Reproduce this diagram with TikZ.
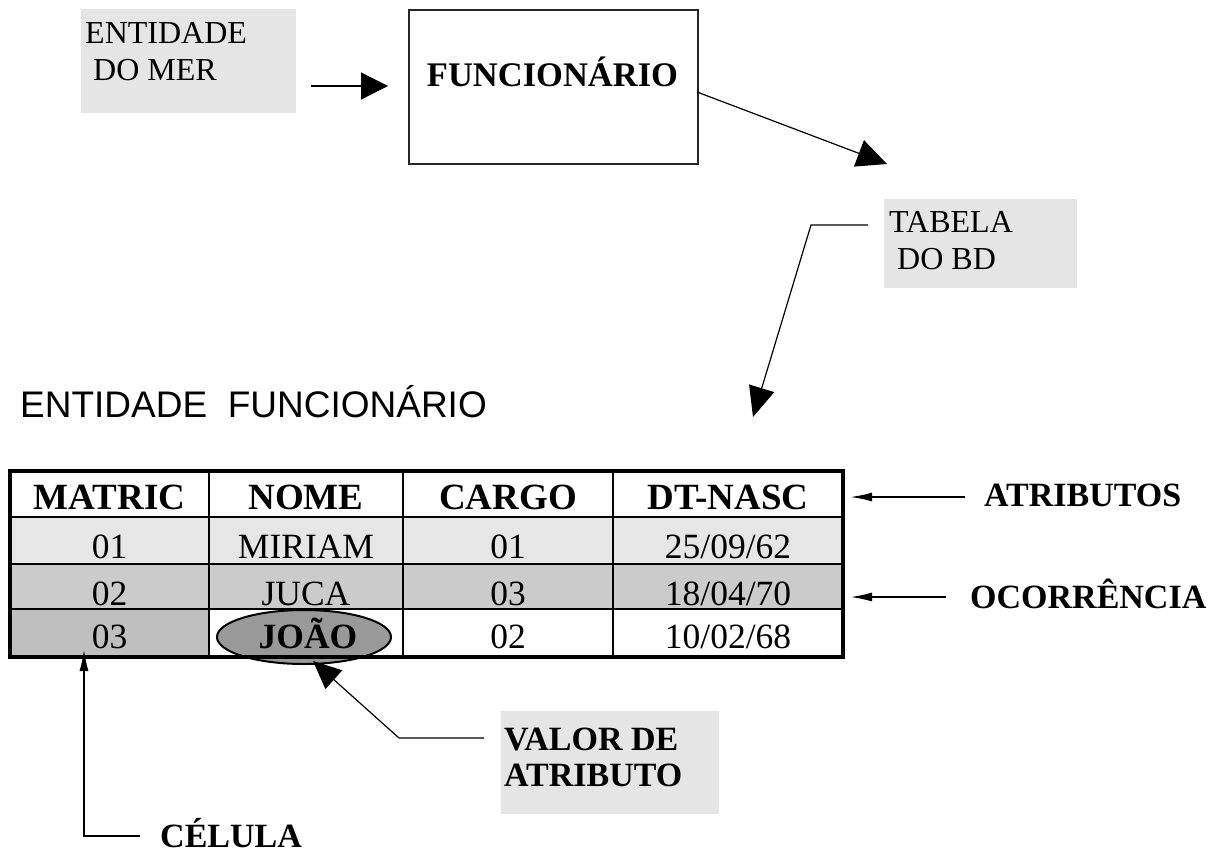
\documentclass[tikz,border=0pt]{standalone}
\usepackage{fontspec}
\setmainfont{Liberation Serif}
\newfontfamily\arialf{Liberation Sans}
\usetikzlibrary{arrows.meta,shapes.geometric}
\definecolor{lightbox}{HTML}{E5E5E5}
\definecolor{rowone}{HTML}{E6E6E6}
\definecolor{rowtwo}{HTML}{CBCBCB}
\definecolor{cellgrey}{HTML}{BFBFBF}
\definecolor{ovalgrey}{HTML}{999999}
\begin{document}
\begin{tikzpicture}[x=1pt,y=-1pt,
  greybox/.style={fill=lightbox, draw=none, inner sep=0pt, anchor=north west},
  txt/.style={inner sep=0pt, anchor=base west},
  ctxt/.style={inner sep=0pt, anchor=base},
  regsm/.style={font=\fontsize{32}{37}\selectfont},
  boldlab/.style={font=\fontsize{34}{40}\selectfont\bfseries},
  hdr/.style={ctxt, font=\fontsize{37}{43}\selectfont\bfseries},
  cell/.style={ctxt, font=\fontsize{35.5}{42}\selectfont},
  bigarrow/.style={line width=1.2pt, -{Triangle[length=27pt,width=27pt]}},
  thinarrow/.style={line width=2pt, -{Latex[length=22pt,width=9pt]}},
  gridline/.style={line width=2pt},
]
\useasboundingbox (0,0) rectangle (1218,854);

% ---- top: ENTIDADE DO MER
\node[greybox, minimum width=215pt, minimum height=104pt] (merbox) at (81,9) {};
\node[txt, regsm] (mer1) at (85,43) {ENTIDADE};
\node[txt, regsm] (mer2) at (93,80) {DO MER};
\coordinate (merA) at (311,86);
\coordinate (merB) at (388,86);
\draw[bigarrow] (merA) -- (merB);

% ---- FUNCIONARIO box
\node[draw=black!85, line width=1.5pt, minimum width=289pt, minimum height=154pt, inner sep=0pt, anchor=north west] (func) at (408,9) {};
\node[ctxt, font=\fontsize{34.5}{40}\selectfont\bfseries] (funct) at (552.5,86) {FUNCIONÁRIO};
\coordinate (fA) at (697,92);
\coordinate (fB) at (887,164);
\draw[line width=1.2pt, -{Triangle[length=30pt,width=28pt]}] (fA) -- (fB);

% ---- TABELA DO BD
\node[greybox, minimum width=193pt, minimum height=89pt] (tabbox) at (884,199) {};
\node[txt, regsm] (tab1) at (889,232) {TABELA};
\node[txt, regsm] (tab2) at (897,269) {DO BD};
\coordinate (tA) at (868,225);
\coordinate (tB) at (811,225);
\coordinate (tC) at (753,417);
\draw[line width=1.2pt, -{Triangle[length=30pt,width=26pt]}] (tA) -- (tB) -- (tC);

% ---- title
\node[txt, font=\arialf\fontsize{37}{43}\selectfont] (title) at (20,417) {ENTIDADE\ \ FUNCIONÁRIO};

% ---- table fills
\fill[rowone] (10,517) rectangle (843,564);
\fill[rowtwo] (10,564) rectangle (843,609);
\fill[cellgrey] (10,609) rectangle (209,657);
\node[ellipse, draw=black, line width=2pt, fill=ovalgrey, minimum width=174pt, minimum height=54pt, inner sep=0pt] (oval) at (304,637) {};

% ---- table lines
\draw[gridline] (209,471) -- (209,657);
\draw[gridline] (403,471) -- (403,657);
\draw[gridline] (613,471) -- (613,657);
\draw[gridline] (10,517) -- (843,517);
\draw[gridline] (10,564) -- (843,564);
\draw[gridline] (10,609) -- (843,609);
\draw[line width=4.5pt] (10,471) rectangle (843,657);

% ---- table text
\node[hdr] (h1) at (109.5,509) {MATRIC};
\node[hdr] (h2) at (306,509) {NOME};
\node[hdr] (h3) at (508,509) {CARGO};
\node[hdr] (h4) at (728,509) {DT-NASC};

\node[cell] (a1) at (109.5,558) {01};
\node[cell] (a2) at (306,558) {MIRIAM};
\node[cell] (a3) at (508,558) {01};
\node[cell] (a4) at (728,558) {25/09/62};

\node[cell] (b1) at (109.5,605) {02};
\node[cell] (b2) at (306,605) {JUCA};
\node[cell] (b3) at (508,605) {03};
\node[cell] (b4) at (728,605) {18/04/70};

\node[cell] (c1) at (109.5,648) {03};
\node[ctxt, font=\fontsize{35.5}{42}\selectfont\bfseries] (c2) at (308,648) {JOÃO};
\node[cell] (c3) at (508,648) {02};
\node[cell] (c4) at (728,648) {10/02/68};

% ---- right labels
\node[txt, boldlab] (atr) at (984,506) {ATRIBUTOS};
\coordinate (atA) at (965,497);
\coordinate (atB) at (850,497);
\draw[thinarrow] (atA) -- (atB);
\node[txt, boldlab] (oco) at (970,608) {OCORRÊNCIA};
\coordinate (ocA) at (946,597);
\coordinate (ocB) at (850,597);
\draw[thinarrow] (ocA) -- (ocB);

% ---- VALOR DE ATRIBUTO
\node[greybox, minimum width=218pt, minimum height=103pt] (valbox) at (501,711) {};
\node[txt, boldlab] (val1) at (504,750) {VALOR DE};
\node[txt, boldlab] (val2) at (504,786) {ATRIBUTO};
\coordinate (vA) at (484,738);
\coordinate (vB) at (399,738);
\coordinate (vC) at (313,661);
\draw[line width=1.2pt, -{Triangle[length=28pt,width=25pt]}] (vA) -- (vB) -- (vC);

% ---- CELULA
\node[txt, boldlab] (cel) at (160,847) {CÉLULA};
\coordinate (cA) at (140,836);
\coordinate (cB) at (84,836);
\coordinate (cC) at (84,649);
\draw[thinarrow] (cA) -- (cB) -- (cC);
\end{tikzpicture}
\end{document}
